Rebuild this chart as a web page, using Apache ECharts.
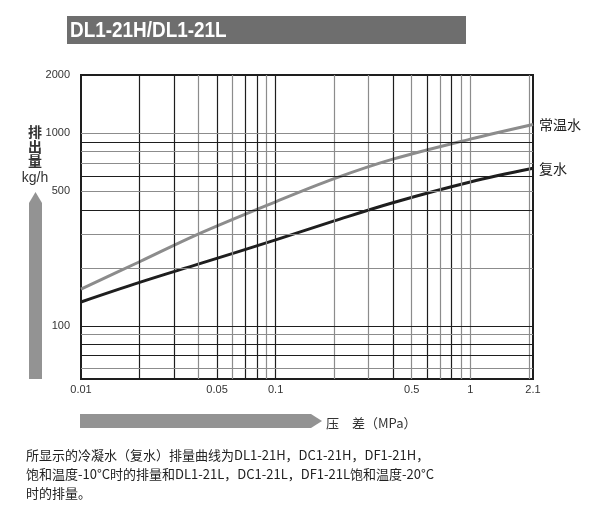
<!DOCTYPE html>
<html>
<head>
<meta charset="utf-8">
<script src="https://cdn.jsdelivr.net/npm/echarts@6/dist/echarts.min.js"></script>
<style>
  html, body { margin: 0; padding: 0; background: #fff; }
  #chart { width: 605px; height: 514px; }
</style>
</head>
<body>
<div id="chart"></div>
<script>
// ---- data ----
const pressure      = [0.01, 0.02, 0.04, 0.1, 0.2, 0.4, 1.0, 2.1];
const normalWater   = [155, 215, 299, 440, 580, 732, 930, 1108];
const condensate    = [133, 168, 209, 279, 350, 435, 557, 656];
const seriesNames   = ['常温水', '复水'];
const xTickLabels   = [0.01, 0.05, 0.1, 0.5, 1, 2.1];
const yTickLabels   = [100, 500, 1000, 2000];
const xGridBlack    = [0.02, 0.03, 0.05, 0.07, 0.08, 0.1, 0.4, 0.6, 0.8];
const xGridGray     = [0.04, 0.06, 0.09, 0.2, 0.3, 0.5, 0.7, 0.9, 1, 2];
const yGridBlack    = [900, 600, 400, 100, 80, 70];
const yGridGray     = [1000, 800, 700, 500, 300, 200, 90, 60];
const titleText     = 'DL1-21H/DL1-21L';
const yName         = ['排', '出', '量'];
const yUnit         = 'kg/h';
const xName         = '压　差（MPa）';
const footnote      = ['所显示的冷凝水（复水）排量曲线为DL1-21H，DC1-21H，DF1-21H，',
                       '饱和温度-10°C时的排量和DL1-21L，DC1-21L，DF1-21L饱和温度-20°C',
                       '时的排量。'];

const BLACK = '#1e1e1e', GRAY = '#8c8c8c';
const CJK = '"Noto Sans CJK SC", "Liberation Sans", sans-serif';
const SANS = '"Liberation Sans", Arial, sans-serif';

const gridLines = [];
xGridBlack.forEach(v => gridLines.push({ xAxis: v, lineStyle: { color: BLACK } }));
xGridGray.forEach(v => gridLines.push({ xAxis: v, lineStyle: { color: GRAY } }));
yGridBlack.forEach(v => gridLines.push({ yAxis: v, lineStyle: { color: BLACK } }));
yGridGray.forEach(v => gridLines.push({ yAxis: v, lineStyle: { color: GRAY } }));

const chart = echarts.init(document.getElementById('chart'), null, { renderer: 'canvas' });

const option = {
  backgroundColor: '#ffffff',
  animation: false,
  grid: {
    left: 81, right: 72, top: 75, bottom: 135,
    show: true, borderColor: BLACK, borderWidth: 2,
    outerBoundsMode: 'none'
  },
  xAxis: {
    type: 'log', logBase: 10, min: 0.01, max: 2.1,
    axisLine: { show: true, lineStyle: { color: BLACK, width: 2 } },
    axisTick: { show: false },
    splitLine: { show: false },
    minorSplitLine: { show: false },
    axisLabel: {
      customValues: xTickLabels,
      margin: 5, fontSize: 11, color: '#333', fontFamily: SANS,
      formatter: v => String(v)
    }
  },
  yAxis: {
    type: 'log', logBase: 10, min: 53, max: 2000,
    axisLine: { show: true, lineStyle: { color: BLACK, width: 2 } },
    axisTick: { show: false },
    splitLine: { show: false },
    axisLabel: {
      customValues: yTickLabels,
      margin: 11, fontSize: 11, color: '#333', fontFamily: SANS,
      formatter: v => String(v)
    }
  },
  series: [
    {
      name: 'grid', type: 'line', z: 1,
      data: [], silent: true,
      markLine: {
        silent: true, symbol: ['none', 'none'],
        label: { show: false },
        lineStyle: { type: 'solid', width: 1.2 },
        emphasis: { disabled: true },
        data: gridLines
      }
    },
    {
      name: seriesNames[0], type: 'line', z: 3,
      data: pressure.map((x, i) => [x, normalWater[i]]),
      smooth: 0.35, showSymbol: false,
      lineStyle: { color: GRAY, width: 3 },
      itemStyle: { color: GRAY },
      endLabel: { show: true, formatter: '{a}', distance: 6, color: '#222', fontSize: 14, fontFamily: CJK }
    },
    {
      name: seriesNames[1], type: 'line', z: 4,
      data: pressure.map((x, i) => [x, condensate[i]]),
      smooth: 0.35, showSymbol: false,
      lineStyle: { color: BLACK, width: 3 },
      itemStyle: { color: BLACK },
      endLabel: { show: true, formatter: '{a}', distance: 6, color: '#222', fontSize: 14, fontFamily: CJK }
    }
  ],
  graphic: [
    { type: 'rect', shape: { x: 67, y: 16, width: 399, height: 28 }, style: { fill: '#6e6e6e' } },
    { type: 'text', x: 70, y: 30.5, scaleX: 0.86, style: { text: titleText, fill: '#fff', font: 'bold 22px ' + SANS, textVerticalAlign: 'middle' } },
    // y axis name
    { type: 'text', x: 35, y: 132, style: { text: yName[0], fill: '#333', font: 'bold 14px ' + CJK, textAlign: 'center', textVerticalAlign: 'middle' } },
    { type: 'text', x: 35, y: 146.5, style: { text: yName[1], fill: '#333', font: 'bold 14px ' + CJK, textAlign: 'center', textVerticalAlign: 'middle' } },
    { type: 'text', x: 35, y: 161, style: { text: yName[2], fill: '#333', font: 'bold 14px ' + CJK, textAlign: 'center', textVerticalAlign: 'middle' } },
    { type: 'text', x: 35, y: 178, style: { text: yUnit, fill: '#333', font: '14px ' + SANS, textAlign: 'center', textVerticalAlign: 'middle' } },
    { type: 'polygon', shape: { points: [[29, 379], [29, 203], [35.5, 192], [42, 203], [42, 379]] }, style: { fill: '#939393' } },
    // x axis arrow and name
    { type: 'polygon', shape: { points: [[80, 414], [311, 414], [322, 421], [311, 428], [80, 428]] }, style: { fill: '#939393' } },
    { type: 'text', x: 326, y: 423, style: { text: xName, fill: '#333', font: '13px ' + CJK, textVerticalAlign: 'middle' } },
    // footnote
    { type: 'text', x: 26, y: 455, style: { text: footnote[0], fill: '#222', font: '13px ' + CJK, textVerticalAlign: 'middle' } },
    { type: 'text', x: 26, y: 474, style: { text: footnote[1], fill: '#222', font: '13px ' + CJK, textVerticalAlign: 'middle' } },
    { type: 'text', x: 26, y: 493, style: { text: footnote[2], fill: '#222', font: '13px ' + CJK, textVerticalAlign: 'middle' } }
  ]
};
chart.setOption(option);
</script>
</body>
</html>
